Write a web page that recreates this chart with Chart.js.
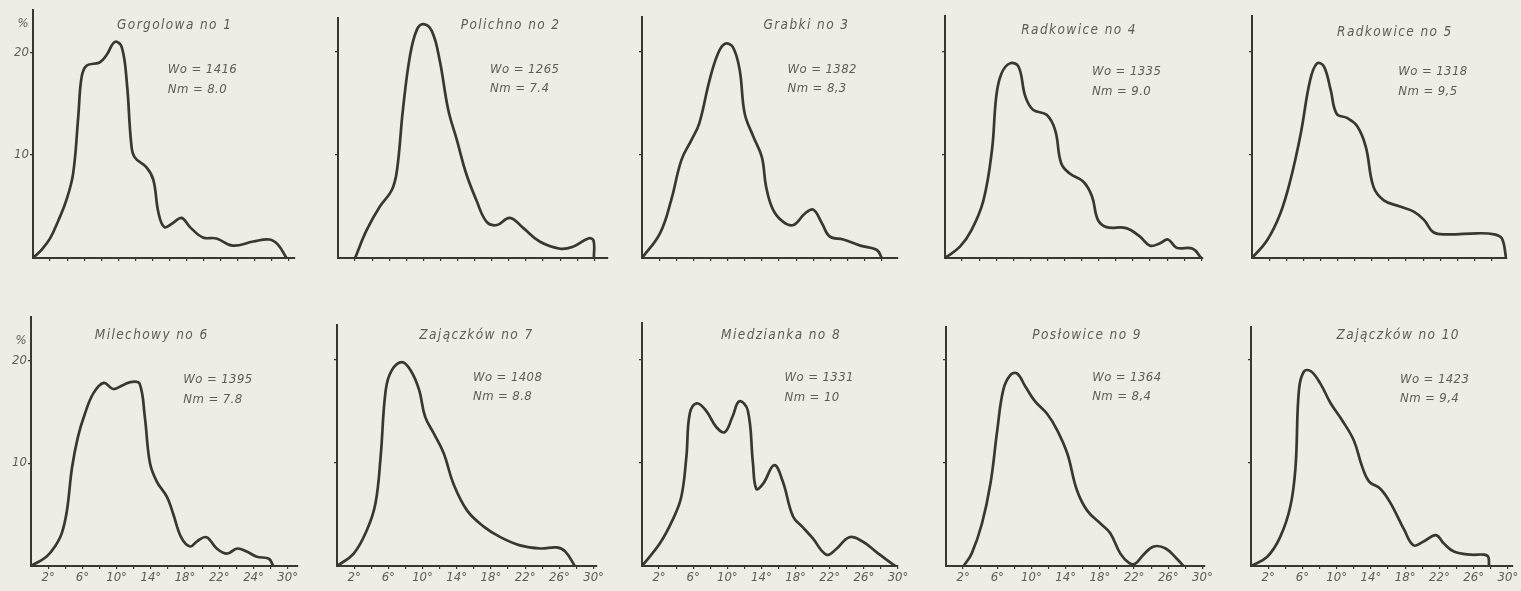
<!DOCTYPE html>
<html>
<head>
<meta charset="utf-8">
<script src="https://cdn.jsdelivr.net/npm/chart.js@4.4.1/dist/chart.umd.min.js"></script>
<style>
html, body { margin: 0; padding: 0; background: #eeece5; }
#wrap { position: relative; width: 1521px; height: 591px; overflow: hidden; background: #eeece5; }
#wrap canvas { position: absolute; }
</style>
</head>
<body>
<div id="wrap"></div>
<script>
// curves: [degrees, percent]
const gorgolowa = [[0,0],[1,0.8],[2,1.9],[3,3.7],[3.9,5.6],[4.7,8.2],[5.3,13.7],[5.7,17.6],[6.3,18.7],[7.8,19.0],[8.6,19.7],[9.6,21.0],[10.4,20.5],[11.0,17.0],[11.5,11.2],[11.9,9.8],[13.3,8.8],[14.1,7.6],[14.7,4.4],[15.4,3.0],[16.4,3.4],[17.4,3.9],[18.4,3.0],[19.9,2.0],[21.5,1.9],[23.4,1.2],[25.8,1.6],[27.7,1.8],[28.7,1.3],[29.7,0]];
const polichno = [[2,0],[3.35,2.7],[4.9,5.0],[6.3,6.6],[6.9,8.5],[7.6,14.4],[8.4,19.5],[9.2,22.1],[10.0,22.7],[11,22.0],[11.9,19.2],[12.9,14.4],[13.9,11.5],[15,8.2],[16.2,5.6],[17.4,3.5],[18.6,3.2],[20.1,3.9],[21.7,2.9],[23.6,1.6],[26,0.9],[27.5,1.1],[29.3,1.9],[29.9,1.7],[29.95,0]];
const grabki = [[0,0],[2.1,2.4],[3.4,5.6],[4.6,9.5],[5.8,11.5],[6.7,13.1],[7.9,17.3],[8.9,19.9],[9.7,20.8],[10.6,20.5],[11.4,18.3],[12.0,14.0],[13,11.8],[14,9.8],[14.5,6.9],[15.3,4.7],[16.5,3.5],[17.7,3.2],[19,4.3],[20,4.7],[21,3.4],[21.9,2.1],[23.5,1.8],[25.5,1.2],[27.4,0.8],[28,0]];
const radkowice4 = [[0,0],[1.75,1.1],[3.1,2.7],[4.5,5.6],[5.5,10.5],[6.0,15.7],[6.6,17.9],[7.6,18.9],[8.6,18.6],[9.4,15.7],[10.3,14.4],[11.9,13.9],[12.9,12.4],[13.6,9.2],[14.6,8.2],[16.2,7.4],[17.2,6.0],[17.9,3.7],[18.9,3.0],[21.2,2.9],[22.8,2.1],[24,1.2],[25.1,1.4],[26.1,1.8],[27.1,1.0],[29,0.9],[30,0]];
const radkowice5 = [[0,0],[1.75,1.7],[3.3,4.3],[4.5,7.6],[5.7,12.1],[6.8,17.3],[7.6,18.9],[8.4,18.6],[9.2,16.3],[9.9,14.0],[11.1,13.6],[12.3,12.8],[13.3,10.8],[14.2,6.9],[15.4,5.6],[17.3,5.0],[18.9,4.5],[20.1,3.7],[21.2,2.5],[22.8,2.3],[26.3,2.4],[28.3,2.3],[29.2,1.9],[29.7,0]];
const milechowy = [[0,0],[1.8,0.9],[2.8,1.9],[3.6,3.2],[4.2,5.4],[4.8,9.6],[5.5,12.6],[6.3,14.8],[7.3,16.8],[8.5,17.8],[9.6,17.2],[10.8,17.6],[11.8,17.9],[12.7,17.7],[13.3,14.5],[13.9,10.0],[14.7,8.2],[15.9,6.7],[16.6,5.1],[17.6,2.7],[18.6,1.9],[19.4,2.4],[20.5,2.8],[21.7,1.7],[22.9,1.2],[24.1,1.7],[25.2,1.4],[26.4,0.9],[27.8,0.7],[28.3,0]];
const zajaczkow7 = [[0,0],[1.95,1.2],[3.5,3.5],[4.5,6.1],[5.1,10.6],[5.7,17.1],[6.4,19.0],[7.6,19.8],[8.6,19.0],[9.6,17.1],[10.3,14.5],[11.3,12.9],[12.5,10.9],[13.6,8.0],[15.2,5.4],[17.2,3.8],[19.1,2.8],[21.4,2.0],[23.8,1.7],[25.7,1.8],[26.7,1.4],[27.8,0]];
const miedzianka = [[0,0],[2.1,2.2],[3.6,4.5],[4.6,6.7],[5.2,10.6],[5.6,14.8],[6.4,15.8],[7.5,15.1],[8.7,13.5],[9.7,13.0],[10.6,14.5],[11.4,16.0],[12.4,15.1],[13.0,10.0],[13.4,7.5],[14.2,8.0],[15.5,9.8],[16.5,8.2],[17.7,4.8],[18.8,3.8],[20,2.7],[21.6,1.1],[22.7,1.6],[24.3,2.8],[25.8,2.4],[27.4,1.4],[29,0.4],[29.7,0]];
const poslowice = [[2.07,0],[3.0,1.2],[4.2,4.1],[5.2,8.0],[6.0,13.2],[6.7,17.1],[7.5,18.5],[8.3,18.7],[9.3,17.4],[10.4,16.0],[11.8,14.8],[13.0,13.2],[14.2,10.9],[15.3,7.4],[16.5,5.4],[18.1,4.1],[19.2,3.2],[20.4,1.2],[21.4,0.3],[22.1,0.2],[23.1,1.1],[24.3,1.9],[25.7,1.7],[27,0.7],[27.8,0]];
const zajaczkow10 = [[0,0],[1.9,0.9],[3.4,2.8],[4.6,5.8],[5.2,9.6],[5.6,17.1],[6.2,18.9],[7.0,18.9],[8.1,17.7],[9.3,15.8],[10.6,14.2],[12.0,12.2],[13.0,9.6],[13.8,8.2],[15.1,7.5],[16.3,6.1],[17.9,3.5],[19.0,2.0],[20.2,2.4],[21.6,3.0],[22.5,2.2],[23.7,1.4],[25.7,1.1],[27.2,1.1],[27.7,0.9],[27.8,0]];

const curves = [gorgolowa, polichno, grabki, radkowice4, radkowice5,
                milechowy, zajaczkow7, miedzianka, poslowice, zajaczkow10];
const titles = ['Gorgolowa no 1', 'Polichno no 2', 'Grabki no 3', 'Radkowice no 4', 'Radkowice no 5',
                'Milechowy no 6', 'Zajączków no 7', 'Miedzianka no 8', 'Posłowice no 9', 'Zajączków no 10'];
const woValues = ['1416', '1265', '1382', '1335', '1318', '1395', '1408', '1331', '1364', '1423'];
const nmValues = ['8.0', '7.4', '8,3', '9.0', '9,5', '7.8', '8.8', '10', '8,4', '9,4'];

const xTicks = [2, 4, 6, 8, 10, 12, 14, 16, 18, 20, 22, 24, 26, 28, 30];
const xLabelAt = [2, 6, 10, 14, 18, 22, 26, 30];
const xLabels = ['2°', '6°', '10°', '14°', '18°', '22°', '26°', '30°'];
const xLabels6 = ['2°', '6°', '10°', '14°', '18°', '22°', '24°', '30°'];
const yTicks = [10, 20];

// axis extents per plate (degrees / percent)
const xMax = [30.7, 31.6, 29.9, 30.2, 29.8, 31.2, 30.4, 30.0, 30.3, 30.6];
const yMax = [24.1, 23.3, 23.4, 23.5, 23.5, 24.2, 23.4, 23.6, 23.2, 23.2];

// where the notes sit, in data units
const titleAt = [[16.6,22.6],[20.2,22.6],[19.2,22.6],[15.7,22.1],[16.7,21.9],
                 [14.1,22.4],[16.3,22.4],[16.3,22.4],[16.5,22.4],[17.2,22.4]];
const noteAt = [[15.8,18.3],[17.8,18.3],[17.0,18.3],[17.2,18.1],[17.1,18.1],
                [17.8,18.1],[15.9,18.3],[16.7,18.3],[17.1,18.3],[17.4,18.1]];

// page layout
const originX = [33, 338, 642, 945, 1252, 31, 337, 642, 946, 1251];
const originY = [258, 258, 258, 258, 258, 566, 566, 566, 566, 566];
const pxPerDeg = 8.55;
const pxPerPct = 10.3;

const ink = '#3a3733';
const textInk = '#5f5b55';
const font = "'DejaVu Sans Condensed', 'Liberation Sans Narrow', 'DejaVu Sans', sans-serif";

const padLeft = 40, padTop = 12, padRight = 22, padBottom = 24;

const notes = {
  id: 'notes',
  afterDraw(chart, args, opts) {
    const i = opts.index;
    const c = chart.ctx, x = chart.scales.x, y = chart.scales.y;
    c.save();
    c.fillStyle = textInk;
    c.textBaseline = 'middle';
    c.font = 'italic 13.5px ' + font;
    c.letterSpacing = '1.4px';
    c.textAlign = 'center';
    c.fillText(titles[i], x.getPixelForValue(titleAt[i][0]), y.getPixelForValue(titleAt[i][1]));
    c.textAlign = 'left';
    c.font = 'italic 13px ' + font;
    c.letterSpacing = '0.4px';
    c.fillText('Wo = ' + woValues[i], x.getPixelForValue(noteAt[i][0]), y.getPixelForValue(noteAt[i][1]));
    c.fillText('Nm = ' + nmValues[i], x.getPixelForValue(noteAt[i][0]), y.getPixelForValue(noteAt[i][1] - 1.9));
    if (i === 0 || i === 5) {
      c.font = 'italic 13px ' + font;
      c.letterSpacing = '0px';
      c.textAlign = 'center';
      const top = i === 0 ? 22.8 : 21.9;
      c.fillText('%', x.left - 10, y.getPixelForValue(top));
    }
    c.restore();
  }
};

const wrap = document.getElementById('wrap');

curves.forEach((pts, i) => {
  const plotW = xMax[i] * pxPerDeg;
  const plotH = yMax[i] * pxPerPct;
  const canvas = document.createElement('canvas');
  const w = Math.round(padLeft + plotW + padRight);
  const h = Math.round(padTop + plotH + padBottom);
  canvas.width = w;
  canvas.height = h;
  canvas.style.width = w + 'px';
  canvas.style.height = h + 'px';
  canvas.style.left = (originX[i] - padLeft) + 'px';
  canvas.style.top = Math.round(originY[i] - plotH - padTop) + 'px';
  wrap.appendChild(canvas);

  const bottomRow = i >= 5;
  const showY = i === 0 || i === 5;
  const labels = i === 5 ? xLabels6 : xLabels;

  new Chart(canvas.getContext('2d'), {
    type: 'line',
    data: {
      datasets: [{
        data: pts.map(p => ({ x: p[0], y: p[1] })),
        borderColor: ink,
        borderWidth: 2.7,
        pointRadius: 0,
        fill: false,
        tension: 0.4,
        borderCapStyle: 'round',
        borderJoinStyle: 'round'
      }]
    },
    options: {
      responsive: false,
      animation: false,
      devicePixelRatio: 1,
      layout: { padding: { left: 0, top: padTop, right: Math.round(w - padLeft - plotW), bottom: 0 } },
      plugins: { legend: { display: false }, tooltip: { enabled: false }, notes: { index: i } },
      scales: {
        x: {
          type: 'linear',
          min: 0,
          max: xMax[i],
          afterFit: s => { s.height = padBottom; },
          afterBuildTicks: s => { s.ticks = xTicks.filter(v => v <= xMax[i]).map(v => ({ value: v })); },
          border: { display: true, color: ink, width: 2 },
          grid: { drawOnChartArea: false, drawTicks: true, tickLength: 3, color: ink, lineWidth: 1.2 },
          ticks: {
            display: bottomRow,
            autoSkip: false,
            maxRotation: 0,
            padding: 1,
            color: textInk,
            font: { family: font, size: 13, style: 'italic' },
            callback: v => {
              const k = xLabelAt.indexOf(v);
              return k >= 0 ? labels[k] : '';
            }
          }
        },
        y: {
          type: 'linear',
          min: 0,
          max: yMax[i],
          afterFit: s => { s.width = padLeft; },
          afterBuildTicks: s => { s.ticks = yTicks.map(v => ({ value: v })); },
          border: { display: true, color: ink, width: 2 },
          grid: { drawOnChartArea: false, drawTicks: true, tickLength: 3, color: ink, lineWidth: 1.2 },
          ticks: {
            display: showY,
            padding: 1,
            color: textInk,
            font: { family: font, size: 13, style: 'italic' },
            callback: v => String(v)
          }
        }
      }
    },
    plugins: [notes]
  });
});
</script>
</body>
</html>
